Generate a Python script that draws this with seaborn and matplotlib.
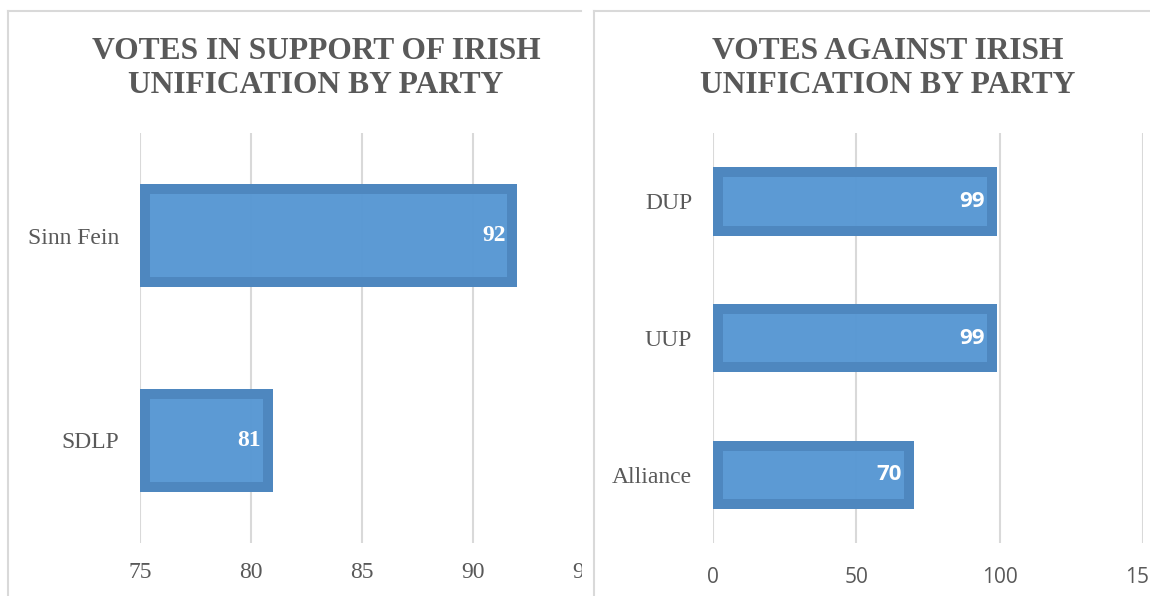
import matplotlib
matplotlib.use('Agg')
import matplotlib.pyplot as plt
import seaborn as sns
import pandas as pd
from matplotlib.lines import Line2D
from matplotlib.patches import Rectangle
from matplotlib.font_manager import FontProperties

# ---- data ----
support_parties = ["Sinn Fein", "SDLP"]
support_votes = [92, 81]
support_ticks = [75, 80, 85, 90, 95]

against_parties = ["DUP", "UUP", "Alliance"]
against_votes = [99, 99, 70]
against_ticks = [0, 50, 100, 150]

support_title = "VOTES IN SUPPORT OF IRISH\nUNIFICATION BY PARTY"
against_title = "VOTES AGAINST IRISH\nUNIFICATION BY PARTY"

# ---- style ----
W, H = 1150, 596
FILL = (87/255, 151/255, 211/255, 0.97)
EDGE = (78/255, 135/255, 191/255, 0.97)
GRID = '#d9d9d9'
TXT = '#595959'
SERIF = 'Liberation Serif'
SANS = 'Open Sans'

plt.rcParams['font.family'] = [SERIF, 'DejaVu Sans']

fig = plt.figure(figsize=(W/100, H/100), dpi=100)


def px_axes(x0, x1, ytop, ybot):
    return fig.add_axes([x0/W, (H-ybot)/H, (x1-x0)/W, (ybot-ytop)/H])


def panel(ax, cats, vals, ticks, tick_pad, val_font, val_size):
    df = pd.DataFrame({'party': cats, 'votes': vals})
    sns.barplot(data=df, x='votes', y='party', orient='h', ax=ax,
                color=FILL[:3], width=0.5, saturation=1)
    base = ticks[0]
    for p in ax.patches:
        v = p.get_width()
        p.set_x(base)
        p.set_width(v - base)
        p.set_facecolor(FILL)
        p.set_edgecolor(EDGE)
        p.set_linewidth(20 * 0.72)
        p.set_clip_path(p)
    ax.set_xlim(ticks[0], ticks[-1])
    ax.set_ylim(len(cats) - 0.5, -0.5)
    ax.set_xticks(ticks, labels=[str(t) for t in ticks])
    ax.set_yticks(range(len(cats)), labels=cats)
    ax.grid(axis='x', color=GRID, lw=1.5)
    ax.grid(axis='y', visible=False)
    ax.set_axisbelow(True)
    for s in ax.spines.values():
        s.set_visible(False)
    ax.set_xlabel('')
    ax.set_ylabel('')
    ax.set_facecolor('none')
    ax.tick_params(axis='x', length=0, pad=tick_pad, labelcolor=TXT)
    ax.tick_params(axis='y', length=0, pad=15, labelcolor=TXT)
    for i, v in enumerate(vals):
        ax.annotate(str(v), xy=(v, i), xytext=(-12, 0), textcoords='offset pixels',
                    ha='right', va='center', color='white', fontweight='bold',
                    fontfamily=val_font, fontsize=val_size)


ax1 = px_axes(140, 584, 133, 543)
panel(ax1, support_parties, support_votes, support_ticks, 14, SERIF, 17)

ax2 = px_axes(713, 1143, 133, 543)
panel(ax2, against_parties, against_votes, against_ticks, 17, SANS, 16)

# titles
fig.text(316/W, 1 - 68.5/H, support_title, ha='center', va='center', fontfamily=SERIF,
         fontweight='bold', fontsize=22.7, color=TXT, linespacing=1.2)
fig.text(888/W, 1 - 68.5/H, against_title, ha='center', va='center', fontfamily=SERIF,
         fontweight='bold', fontsize=22.7, color=TXT, linespacing=1.2)

# clip the left screenshot and draw frames
fig.add_artist(Rectangle((581.5/W, 0), (593 - 581.5)/W, 1, transform=fig.transFigure,
                         facecolor='white', edgecolor='none', zorder=10))
fl = dict(color=GRID, lw=1.5, transform=fig.transFigure, zorder=11)
fig.add_artist(Line2D([8/W, 8/W], [0, 1 - 11/H], **fl))
fig.add_artist(Line2D([8/W, 581/W], [1 - 11/H, 1 - 11/H], **fl))
fig.add_artist(Line2D([594/W, 594/W], [0, 1 - 11/H], **fl))
fig.add_artist(Line2D([594/W, 1], [1 - 11/H, 1 - 11/H], **fl))

# fonts of tick labels: a fresh FontProperties per label
fig.canvas.draw()
for lab in ax1.get_xticklabels():
    lab.set_fontproperties(FontProperties(family=SERIF, size=17))
for lab in ax1.get_yticklabels() + ax2.get_yticklabels():
    lab.set_fontproperties(FontProperties(family=SERIF, size=17))
for lab in ax2.get_xticklabels():
    lab.set_fontproperties(FontProperties(family=SANS, size=15))

fig.savefig('out.png', dpi=100, facecolor='white')
